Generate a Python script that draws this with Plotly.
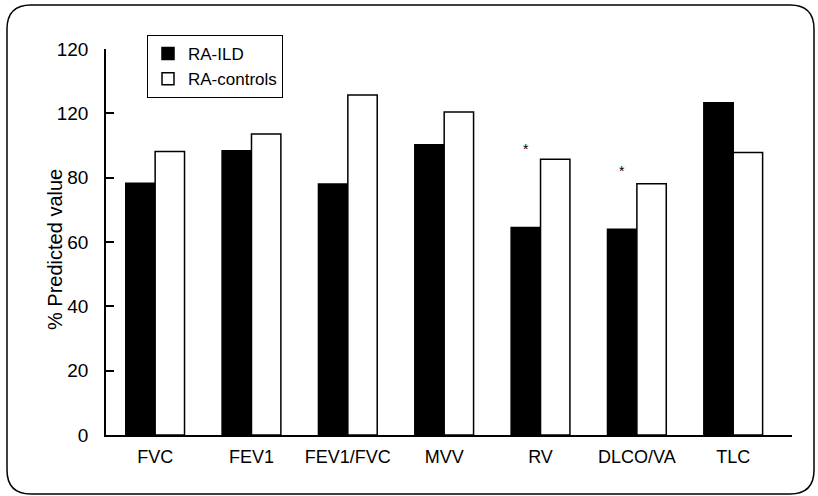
import plotly.graph_objects as go

categories = ["FVC", "FEV1", "FEV1/FVC", "MVV", "RV", "DLCO/VA", "TLC"]
ra_ild = [78.3, 88.4, 78.0, 90.2, 64.5, 64.0, 103.3]
ra_controls = [88.1, 93.6, 105.7, 100.4, 85.7, 78.1, 87.8]
y_tick_vals = [0, 20, 40, 60, 80, 100, 120]
y_tick_text = ["0", "20", "40", "60", "80", "120", "120"]
star_categories = ["RV", "DLCO/VA"]
star_y = [89, 82]
y_title = "% Predicted value"

FONT = "Liberation Sans, Arial, Helvetica, sans-serif"
W, H = 818, 496
L, R, T, B = 106, 792, 49, 435

fig = go.Figure()
fig.add_trace(go.Bar(
    x=categories, y=ra_ild, name="RA-ILD",
    marker=dict(color="black", line=dict(color="black", width=1.5)),
))
fig.add_trace(go.Bar(
    x=categories, y=ra_controls, name="RA-controls",
    marker=dict(color="white", line=dict(color="black", width=1.5)),
))

for c, yv in zip(star_categories, star_y):
    fig.add_annotation(x=c, y=yv, text="*", showarrow=False, xshift=-15,
                       font=dict(size=14, color="black", family=FONT))


def px2paper_x(px):
    return (px - L) / (R - L)


def px2paper_y(py):
    return (B - py) / (B - T)


# y-axis title as rotated text
fig.add_annotation(x=px2paper_x(55), y=px2paper_y(250), xref="paper", yref="paper",
                   text=y_title, textangle=-90, showarrow=False,
                   xanchor="center", yanchor="middle",
                   font=dict(size=20, family=FONT, color="black"))

# rounded border frame
x0, x1, y0, y1, r = 7, 814, 5, 494, 24
path = (
    f"M {px2paper_x(x0 + r)},{px2paper_y(y0)} "
    f"L {px2paper_x(x1 - r)},{px2paper_y(y0)} "
    f"Q {px2paper_x(x1)},{px2paper_y(y0)} {px2paper_x(x1)},{px2paper_y(y0 + r)} "
    f"L {px2paper_x(x1)},{px2paper_y(y1 - r)} "
    f"Q {px2paper_x(x1)},{px2paper_y(y1)} {px2paper_x(x1 - r)},{px2paper_y(y1)} "
    f"L {px2paper_x(x0 + r)},{px2paper_y(y1)} "
    f"Q {px2paper_x(x0)},{px2paper_y(y1)} {px2paper_x(x0)},{px2paper_y(y1 - r)} "
    f"L {px2paper_x(x0)},{px2paper_y(y0 + r)} "
    f"Q {px2paper_x(x0)},{px2paper_y(y0)} {px2paper_x(x0 + r)},{px2paper_y(y0)} Z"
)
fig.add_shape(type="path", path=path, xref="paper", yref="paper",
              line=dict(color="black", width=1.5), layer="below")

fig.update_layout(
    width=W, height=H,
    margin=dict(l=L, r=W - R, t=T, b=H - B, pad=0),
    paper_bgcolor="white", plot_bgcolor="white",
    font=dict(family=FONT, color="black", size=16),
    barmode="group", bargap=0.39, bargroupgap=0,
    showlegend=True,
    legend=dict(
        x=px2paper_x(147), y=px2paper_y(35), xanchor="left", yanchor="top",
        bordercolor="black", borderwidth=1, bgcolor="white",
        font=dict(size=17, family=FONT, color="black"),
        tracegroupgap=0, itemwidth=30,
    ),
    xaxis=dict(
        type="category", range=[-0.51, 6.61],
        showline=True, linecolor="black", linewidth=1.5,
        ticks="", showgrid=False, zeroline=False,
        tickfont=dict(size=18, family=FONT, color="black"),
        ticklabelstandoff=5,
    ),
    yaxis=dict(
        range=[0, 120], tickvals=y_tick_vals, ticktext=y_tick_text,
        ticks="inside", ticklen=8, tickwidth=1.5, tickcolor="black",
        showline=True, linecolor="black", linewidth=1.5,
        showgrid=False, zeroline=False,
        tickfont=dict(size=19, family=FONT, color="black"),
        ticklabelstandoff=12,
    ),
)

fig.write_html(
    "out.html",
    config={"displayModeBar": False},
    post_script="document.body.style.margin='0';document.body.style.overflow='hidden';",
)
